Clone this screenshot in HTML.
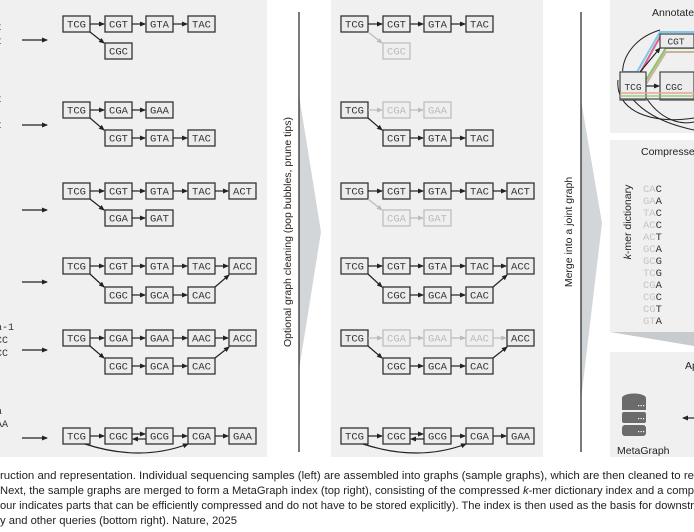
<!DOCTYPE html>
<html><head><meta charset="utf-8"><style>
html,body{margin:0;padding:0;background:#fff;}
svg{display:block;}
.b rect{fill:#ececec;stroke:#333;stroke-width:1.3}
.b text{font-family:"Liberation Mono",monospace;font-size:10.5px;fill:#333;text-anchor:middle}
.g rect{fill:#efefef;stroke:#bbb;stroke-width:1.2}
.g text{font-family:"Liberation Mono",monospace;font-size:10.5px;fill:#bbb;text-anchor:middle}
.e{stroke:#222;stroke-width:1.2;fill:none;marker-end:url(#ah)}
.eg{stroke:#bbb;stroke-width:1.2;fill:none;marker-end:url(#ahg)}
.cap{font-family:"Liberation Sans Narrow","Liberation Sans",sans-serif;font-size:11px;fill:#222}
</style></head><body>
<svg width="694" height="532" viewBox="0 0 694 532" xmlns="http://www.w3.org/2000/svg">
<defs>
<marker id="ah" markerWidth="6" markerHeight="6" refX="5" refY="3" orient="auto" markerUnits="userSpaceOnUse"><path d="M0,0.5 L6,3 L0,5.5z" fill="#222"/></marker>
<marker id="ahg" markerWidth="6" markerHeight="6" refX="5" refY="3" orient="auto" markerUnits="userSpaceOnUse"><path d="M0,0.5 L6,3 L0,5.5z" fill="#bbb"/></marker>
</defs>
<rect x="0" y="0" width="267" height="457" fill="#f0f0f0"/>
<rect x="331" y="0" width="212" height="457" fill="#f0f0f0"/>
<rect x="610" y="0" width="84" height="133" fill="#f0f0f0"/>
<rect x="610" y="140" width="84" height="192" fill="#f0f0f0"/>
<polygon points="610,332 694,332 694,346" fill="#c8cbce"/>
<rect x="610" y="352" width="84" height="105" fill="#f0f0f0"/>

<g font-family="Liberation Mono,monospace" font-size="10" fill="#333">
<text x="-4" y="30">t</text><text x="-4" y="44">t</text>
<text x="-4" y="102">t</text><text x="-4" y="128">t</text>
<text x="-4" y="190">,</text>
<text x="-4" y="330">a-1</text><text x="-4" y="343">CC</text><text x="-4" y="356">CC</text>
<text x="-4" y="414">a</text><text x="-4" y="427">AA</text><text x="-4" y="451">.</text>
</g>
<g class="e">
<line x1="22" y1="40" x2="47" y2="40"/><line x1="22" y1="125" x2="47" y2="125"/>
<line x1="22" y1="210" x2="47" y2="210"/><line x1="22" y1="282" x2="47" y2="282"/>
<line x1="22" y1="350" x2="47" y2="350"/><line x1="22" y1="438" x2="47" y2="438"/>
</g>

<!-- PANEL 1 -->
<g>
<g class="b"><rect x="63" y="16" width="27" height="16"/><text x="76.5" y="27.5">TCG</text>
<rect x="105" y="16" width="27" height="16"/><text x="118.5" y="27.5">CGT</text>
<rect x="146" y="16" width="27" height="16"/><text x="159.5" y="27.5">GTA</text>
<rect x="188" y="16" width="27" height="16"/><text x="201.5" y="27.5">TAC</text>
<rect x="105" y="43" width="27" height="16"/><text x="118.5" y="54.5">CGC</text></g>
<g class="e"><path d="M90,24H104"/><path d="M132,24H145"/><path d="M173,24H187"/><path d="M90,32L104,43"/></g>

<g class="b"><rect x="63" y="102" width="27" height="16"/><text x="76.5" y="113.5">TCG</text>
<rect x="105" y="102" width="27" height="16"/><text x="118.5" y="113.5">CGA</text>
<rect x="146" y="102" width="27" height="16"/><text x="159.5" y="113.5">GAA</text>
<rect x="105" y="130" width="27" height="16"/><text x="118.5" y="141.5">CGT</text>
<rect x="146" y="130" width="27" height="16"/><text x="159.5" y="141.5">GTA</text>
<rect x="188" y="130" width="27" height="16"/><text x="201.5" y="141.5">TAC</text></g>
<g class="e"><path d="M90,110H104"/><path d="M132,110H145"/><path d="M90,118L104,130"/><path d="M132,138H145"/><path d="M173,138H187"/></g>

<g class="b"><rect x="63" y="183" width="27" height="16"/><text x="76.5" y="194.5">TCG</text>
<rect x="105" y="183" width="27" height="16"/><text x="118.5" y="194.5">CGT</text>
<rect x="146" y="183" width="27" height="16"/><text x="159.5" y="194.5">GTA</text>
<rect x="188" y="183" width="27" height="16"/><text x="201.5" y="194.5">TAC</text>
<rect x="229" y="183" width="27" height="16"/><text x="242.5" y="194.5">ACT</text>
<rect x="105" y="210" width="27" height="16"/><text x="118.5" y="221.5">CGA</text>
<rect x="146" y="210" width="27" height="16"/><text x="159.5" y="221.5">GAT</text></g>
<g class="e"><path d="M90,191H104"/><path d="M132,191H145"/><path d="M173,191H187"/><path d="M215,191H228"/><path d="M90,199L104,210"/><path d="M132,218H145"/></g>

<g class="b"><rect x="63" y="258" width="27" height="16"/><text x="76.5" y="269.5">TCG</text>
<rect x="105" y="258" width="27" height="16"/><text x="118.5" y="269.5">CGT</text>
<rect x="146" y="258" width="27" height="16"/><text x="159.5" y="269.5">GTA</text>
<rect x="188" y="258" width="27" height="16"/><text x="201.5" y="269.5">TAC</text>
<rect x="229" y="258" width="27" height="16"/><text x="242.5" y="269.5">ACC</text>
<rect x="105" y="287" width="27" height="16"/><text x="118.5" y="298.5">CGC</text>
<rect x="146" y="287" width="27" height="16"/><text x="159.5" y="298.5">GCA</text>
<rect x="188" y="287" width="27" height="16"/><text x="201.5" y="298.5">CAC</text></g>
<g class="e"><path d="M90,266H104"/><path d="M132,266H145"/><path d="M173,266H187"/><path d="M215,266H228"/><path d="M90,274L104,287"/><path d="M132,295H145"/><path d="M173,295H187"/><path d="M215,287L229,275"/></g>

<g class="b"><rect x="63" y="330" width="27" height="16"/><text x="76.5" y="341.5">TCG</text>
<rect x="105" y="330" width="27" height="16"/><text x="118.5" y="341.5">CGA</text>
<rect x="146" y="330" width="27" height="16"/><text x="159.5" y="341.5">GAA</text>
<rect x="188" y="330" width="27" height="16"/><text x="201.5" y="341.5">AAC</text>
<rect x="229" y="330" width="27" height="16"/><text x="242.5" y="341.5">ACC</text>
<rect x="105" y="358" width="27" height="16"/><text x="118.5" y="369.5">CGC</text>
<rect x="146" y="358" width="27" height="16"/><text x="159.5" y="369.5">GCA</text>
<rect x="188" y="358" width="27" height="16"/><text x="201.5" y="369.5">CAC</text></g>
<g class="e"><path d="M90,338H104"/><path d="M132,338H145"/><path d="M173,338H187"/><path d="M215,338H228"/><path d="M90,346L104,358"/><path d="M132,366H145"/><path d="M173,366H187"/><path d="M215,358L229,347"/></g>

<g class="b"><rect x="63" y="428" width="27" height="16"/><text x="76.5" y="439.5">TCG</text>
<rect x="105" y="428" width="27" height="16"/><text x="118.5" y="439.5">CGC</text>
<rect x="146" y="428" width="27" height="16"/><text x="159.5" y="439.5">GCG</text>
<rect x="188" y="428" width="27" height="16"/><text x="201.5" y="439.5">CGA</text>
<rect x="229" y="428" width="27" height="16"/><text x="242.5" y="439.5">GAA</text></g>
<g class="e"><path d="M90,436H104"/><path d="M132,434H145"/><path d="M146,439H133"/><path d="M173,436H187"/><path d="M215,436H228"/><path d="M85,444Q140,462 188,444"/></g>
</g>

<polygon points="299,95 321,232 299,370" fill="#d3d6d9"/>
<line x1="299" y1="12" x2="299" y2="452" stroke="#222" stroke-width="1.2"/>
<text transform="translate(291,232) rotate(-90)" text-anchor="middle" font-family="Liberation Sans,sans-serif" font-size="10.5" fill="#222">Optional graph cleaning (pop bubbles, prune tips)</text>

<!-- PANEL 2 -->
<g transform="translate(278,0)">
<g class="b"><rect x="63" y="16" width="27" height="16"/><text x="76.5" y="27.5">TCG</text>
<rect x="105" y="16" width="27" height="16"/><text x="118.5" y="27.5">CGT</text>
<rect x="146" y="16" width="27" height="16"/><text x="159.5" y="27.5">GTA</text>
<rect x="188" y="16" width="27" height="16"/><text x="201.5" y="27.5">TAC</text></g>
<g class="g"><rect x="105" y="43" width="27" height="16"/><text x="118.5" y="54.5">CGC</text></g>
<g class="e"><path d="M90,24H104"/><path d="M132,24H145"/><path d="M173,24H187"/></g><path class="eg" d="M90,32L104,43"/>

<g class="b"><rect x="63" y="102" width="27" height="16"/><text x="76.5" y="113.5">TCG</text>
<rect x="105" y="130" width="27" height="16"/><text x="118.5" y="141.5">CGT</text>
<rect x="146" y="130" width="27" height="16"/><text x="159.5" y="141.5">GTA</text>
<rect x="188" y="130" width="27" height="16"/><text x="201.5" y="141.5">TAC</text></g>
<g class="g"><rect x="105" y="102" width="27" height="16"/><text x="118.5" y="113.5">CGA</text>
<rect x="146" y="102" width="27" height="16"/><text x="159.5" y="113.5">GAA</text></g>
<g class="eg"><path d="M90,110H104"/><path d="M132,110H145"/></g><g class="e"><path d="M90,118L104,130"/><path d="M132,138H145"/><path d="M173,138H187"/></g>

<g class="b"><rect x="63" y="183" width="27" height="16"/><text x="76.5" y="194.5">TCG</text>
<rect x="105" y="183" width="27" height="16"/><text x="118.5" y="194.5">CGT</text>
<rect x="146" y="183" width="27" height="16"/><text x="159.5" y="194.5">GTA</text>
<rect x="188" y="183" width="27" height="16"/><text x="201.5" y="194.5">TAC</text>
<rect x="229" y="183" width="27" height="16"/><text x="242.5" y="194.5">ACT</text></g>
<g class="g"><rect x="105" y="210" width="27" height="16"/><text x="118.5" y="221.5">CGA</text>
<rect x="146" y="210" width="27" height="16"/><text x="159.5" y="221.5">GAT</text></g>
<g class="e"><path d="M90,191H104"/><path d="M132,191H145"/><path d="M173,191H187"/><path d="M215,191H228"/></g><g class="eg"><path d="M90,199L104,210"/><path d="M132,218H145"/></g>

<g class="b"><rect x="63" y="258" width="27" height="16"/><text x="76.5" y="269.5">TCG</text>
<rect x="105" y="258" width="27" height="16"/><text x="118.5" y="269.5">CGT</text>
<rect x="146" y="258" width="27" height="16"/><text x="159.5" y="269.5">GTA</text>
<rect x="188" y="258" width="27" height="16"/><text x="201.5" y="269.5">TAC</text>
<rect x="229" y="258" width="27" height="16"/><text x="242.5" y="269.5">ACC</text>
<rect x="105" y="287" width="27" height="16"/><text x="118.5" y="298.5">CGC</text>
<rect x="146" y="287" width="27" height="16"/><text x="159.5" y="298.5">GCA</text>
<rect x="188" y="287" width="27" height="16"/><text x="201.5" y="298.5">CAC</text></g>
<g class="e"><path d="M90,266H104"/><path d="M132,266H145"/><path d="M173,266H187"/><path d="M215,266H228"/><path d="M90,274L104,287"/><path d="M132,295H145"/><path d="M173,295H187"/><path d="M215,287L229,275"/></g>

<g class="b"><rect x="63" y="330" width="27" height="16"/><text x="76.5" y="341.5">TCG</text>
<rect x="229" y="330" width="27" height="16"/><text x="242.5" y="341.5">ACC</text>
<rect x="105" y="358" width="27" height="16"/><text x="118.5" y="369.5">CGC</text>
<rect x="146" y="358" width="27" height="16"/><text x="159.5" y="369.5">GCA</text>
<rect x="188" y="358" width="27" height="16"/><text x="201.5" y="369.5">CAC</text></g>
<g class="g"><rect x="105" y="330" width="27" height="16"/><text x="118.5" y="341.5">CGA</text>
<rect x="146" y="330" width="27" height="16"/><text x="159.5" y="341.5">GAA</text>
<rect x="188" y="330" width="27" height="16"/><text x="201.5" y="341.5">AAC</text></g>
<g class="eg"><path d="M90,338H104"/><path d="M132,338H145"/><path d="M173,338H187"/><path d="M215,338H228"/></g>
<g class="e"><path d="M90,346L104,358"/><path d="M132,366H145"/><path d="M173,366H187"/><path d="M215,358L229,347"/></g>

<g class="b"><rect x="63" y="428" width="27" height="16"/><text x="76.5" y="439.5">TCG</text>
<rect x="105" y="428" width="27" height="16"/><text x="118.5" y="439.5">CGC</text>
<rect x="146" y="428" width="27" height="16"/><text x="159.5" y="439.5">GCG</text>
<rect x="188" y="428" width="27" height="16"/><text x="201.5" y="439.5">CGA</text>
<rect x="229" y="428" width="27" height="16"/><text x="242.5" y="439.5">GAA</text></g>
<g class="e"><path d="M90,436H104"/><path d="M132,434H145"/><path d="M146,439H133"/><path d="M173,436H187"/><path d="M215,436H228"/><path d="M85,444Q140,462 188,444"/></g>
</g>

<polygon points="581,100 602,223 581,400" fill="#d3d6d9"/>
<line x1="581" y1="12" x2="581" y2="452" stroke="#222" stroke-width="1.2"/>
<text transform="translate(572,232) rotate(-90)" text-anchor="middle" font-family="Liberation Sans,sans-serif" font-size="10.5" fill="#222">Merge into a joint graph</text>

<!-- Annotated -->
<text x="652" y="16" font-family="Liberation Sans,sans-serif" font-size="10.5" fill="#222">Annotated</text>
<path d="M660,30 C610,45 600,110 694,130" fill="none" stroke="#222" stroke-width="1"/>
<path d="M645,96 C660,120 680,125 694,122" fill="none" stroke="#222" stroke-width="1"/>
<path d="M618,80 C615,110 650,125 694,118" fill="none" stroke="#222" stroke-width="1"/>
<path d="M622,72 L637,72 L660,32 L694,32" fill="none" stroke="#7ec8ea" stroke-width="2"/>
<path d="M622,75 L639,75 L661,35 L694,35" fill="none" stroke="#e0608e" stroke-width="2"/>
<path d="M646,80 L666,48 L694,48" fill="none" stroke="#8cc46a" stroke-width="2"/>
<path d="M646,84 L666,52 L694,52" fill="none" stroke="#c9b29a" stroke-width="2"/>
<rect x="660" y="34" width="34" height="14" fill="#ececec" stroke="#333" stroke-width="1.1"/>
<text x="676" y="44.5" text-anchor="middle" font-family="Liberation Mono,monospace" font-size="9.5" fill="#333">CGT</text>
<rect x="620" y="72" width="26" height="28" fill="#ececec" stroke="#333" stroke-width="1.1"/>
<rect x="660" y="72" width="34" height="28" fill="#ececec" stroke="#333" stroke-width="1.1"/>
<text x="633" y="90" text-anchor="middle" font-family="Liberation Mono,monospace" font-size="9.5" fill="#333">TCG</text>
<text x="674" y="90" text-anchor="middle" font-family="Liberation Mono,monospace" font-size="9.5" fill="#333">CGC</text>
<line x1="620" y1="93" x2="694" y2="93" stroke="#e0a890" stroke-width="1.5"/>
<line x1="620" y1="96" x2="694" y2="96" stroke="#8cc46a" stroke-width="1.2"/>
<line x1="620" y1="99" x2="694" y2="99" stroke="#666" stroke-width="1.5"/>
<g class="e"><path d="M646,86H659"/><path d="M640,72L660,48"/></g>

<!-- Compressed -->
<text x="641" y="155" font-family="Liberation Sans,sans-serif" font-size="10.5" fill="#222">Compressed</text>
<text transform="translate(631,222) rotate(-90)" text-anchor="middle" font-family="Liberation Sans,sans-serif" font-size="10.5" fill="#222"><tspan font-style="italic">k</tspan>-mer dictionary</text>
<g font-family="Liberation Mono,monospace" font-size="10.5" fill="#333">
<text x="643" y="192"><tspan fill="#c4c4c4">CA</tspan>C</text>
<text x="643" y="204"><tspan fill="#c4c4c4">GA</tspan>A</text>
<text x="643" y="216"><tspan fill="#c4c4c4">TA</tspan>C</text>
<text x="643" y="228"><tspan fill="#c4c4c4">AC</tspan>C</text>
<text x="643" y="240"><tspan fill="#c4c4c4">AC</tspan>T</text>
<text x="643" y="252"><tspan fill="#c4c4c4">GC</tspan>A</text>
<text x="643" y="264"><tspan fill="#c4c4c4">GC</tspan>G</text>
<text x="643" y="276"><tspan fill="#c4c4c4">TC</tspan>G</text>
<text x="643" y="288"><tspan fill="#c4c4c4">CG</tspan>A</text>
<text x="643" y="300"><tspan fill="#c4c4c4">CG</tspan>C</text>
<text x="643" y="312"><tspan fill="#c4c4c4">CG</tspan>T</text>
<text x="643" y="324"><tspan fill="#c4c4c4">GT</tspan>A</text>
</g>

<!-- Applications -->
<text x="685" y="369" font-family="Liberation Sans,sans-serif" font-size="10.5" fill="#222">Applications</text>
<g fill="#6b6b6b">
<ellipse cx="634" cy="398" rx="12" ry="4.5"/>
<rect x="622" y="398" width="24" height="12"/>
<rect x="622" y="412" width="24" height="11" rx="2"/>
<rect x="622" y="425" width="24" height="11" rx="3"/>
</g>
<g fill="#fff">
<rect x="638" y="405" width="1.2" height="1.2"/><rect x="640.5" y="405" width="1.2" height="1.2"/><rect x="643" y="405" width="1.2" height="1.2"/>
<rect x="638" y="418" width="1.2" height="1.2"/><rect x="640.5" y="418" width="1.2" height="1.2"/><rect x="643" y="418" width="1.2" height="1.2"/>
<rect x="638" y="431" width="1.2" height="1.2"/><rect x="640.5" y="431" width="1.2" height="1.2"/><rect x="643" y="431" width="1.2" height="1.2"/>
</g>
<text x="617" y="454" font-family="Liberation Sans,sans-serif" font-size="10.5" fill="#222">MetaGraph</text>
<line x1="694" y1="418" x2="683" y2="418" class="e"/>

<text class="cap" x="0" y="479" textLength="694" lengthAdjust="spacingAndGlyphs">ruction and representation. Individual sequencing samples (left) are assembled into graphs (sample graphs), which are then cleaned to re</text>
<text class="cap" x="0" y="494" textLength="694" lengthAdjust="spacingAndGlyphs">Next, the sample graphs are merged to form a MetaGraph index (top right), consisting of the compressed <tspan font-style="italic">k</tspan>-mer dictionary index and a comp</text>
<text class="cap" x="0" y="509" textLength="694" lengthAdjust="spacingAndGlyphs">our indicates parts that can be efficiently compressed and do not have to be stored explicitly). The index is then used as the basis for downstr</text>
<text class="cap" x="0" y="524" textLength="237" lengthAdjust="spacingAndGlyphs">y and other queries (bottom right). Nature, 2025</text>
</svg>
</body></html>
